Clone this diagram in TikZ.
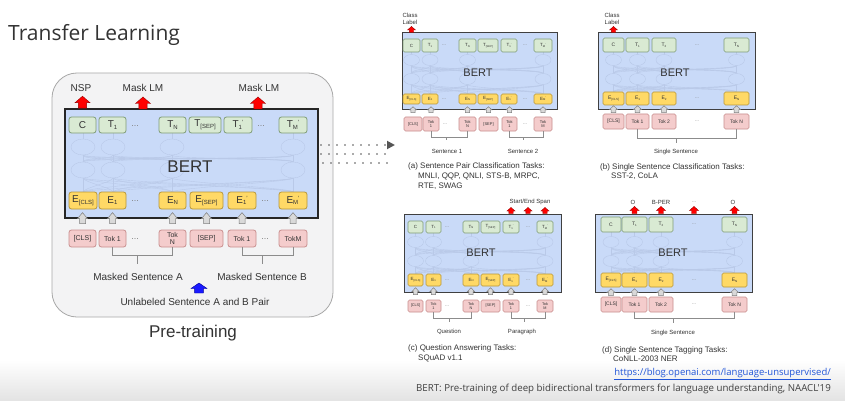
\documentclass[tikz,border=0pt]{standalone}
\usepackage{fontspec}
\setmainfont{Liberation Sans}
\newfontfamily\segoe{Open Sans}
\usetikzlibrary{calc,arrows.meta}
\definecolor{panelbg}{HTML}{F3F3F4}
\definecolor{panelbd}{HTML}{A8A8A8}
\definecolor{bertbg}{HTML}{C9DAF8}
\definecolor{greenf}{HTML}{D9EAD3}
\definecolor{greenb}{HTML}{7F9C76}
\definecolor{yelf}{HTML}{FFD966}
\definecolor{yelb}{HTML}{B8973A}
\definecolor{pinkf}{HTML}{F4CCCC}
\definecolor{pinkb}{HTML}{C98E8E}
\definecolor{txt}{HTML}{333333}
\definecolor{faintc}{HTML}{B9C9E8}
\definecolor{dotc}{HTML}{555555}
\definecolor{urlc}{HTML}{2256D8}
\newcommand{\sbs}[1]{\raisebox{-0.35ex}{\scalebox{0.6}{#1}}}
\newcommand{\spr}{\raisebox{0.55ex}{\scalebox{0.6}{'}}}
\newcommand{\tk}[7]{\node[#1, minimum width={#4-#3}, minimum height={#6-#5}] (#2) at ({(#3+#4)/2},{(#5+#6)/2}) {#7};}
\newcommand{\net}[7]{%
  \foreach \ca in {#1}{%
    \draw[faintl] (\ca,#2) -- (\ca,#3);
    \foreach \cb in {#1}{%
      \draw[faintl] (\ca,#4+#7) .. controls (\ca,#4+#7+5) and (\cb,#5-#7-5) .. (\cb,#5-#7);
      \draw[faintl] (\ca,#5+#7) .. controls (\ca,#5+#7+4) and (\cb,#3-4) .. (\cb,#3);
    }}
  \foreach \ca in {#1}{%
    \draw[faintl, fill=bertbg] (\ca,#4) ellipse ({#6} and {#7});
    \draw[faintl, fill=bertbg] (\ca,#5) ellipse ({#6} and {#7});
  }}
\newcommand{\garr}[4]{\filldraw[garrow] ($(#1.north)+(0,-#2)$) ++(-0.6*#4,0) -- ++(0,-0.45*#3) -- ++(-0.4*#4,0) -- ++(#4,-0.55*#3) -- ++(#4,0.55*#3) -- ++(-0.4*#4,0) -- ++(0,0.45*#3) -- cycle;}
\newcommand{\rarr}[5]{\filldraw[#1] (#2) ++(-0.55*#4,0) -- ++(0,-#3+#5) -- ++(-0.45*#4,0) -- ++(#4,-#5) -- ++(#4,#5) -- ++(-0.45*#4,0) -- ++(0,#3-#5) -- cycle;}
\newcommand{\brk}[5]{\draw[brkl] (#1.south) -- ++(0,#3) -| (#2.south); \draw[brkl] ($(#1.south)!#4!(#2.south)+(0,#3)$) -- ++(0,#5);}
\tikzset{
  tokbase/.style={rounded corners=2.5pt, line width=0.8pt, inner sep=0pt, text=txt, align=center, font=\fontsize{10}{10}\selectfont},
  gtok/.style={tokbase, draw=greenb, fill=greenf},
  ytok/.style={tokbase, draw=yelb, fill=yelf},
  ptok/.style={tokbase, draw=pinkb, fill=pinkf, font=\fontsize{7}{7.5}\selectfont},
  sbase/.style={rounded corners=1.5pt, line width=0.6pt, inner sep=0pt, text=txt, align=center, font=\fontsize{4.5}{4.8}\selectfont},
  sg/.style={sbase, draw=greenb, fill=greenf},
  sy/.style={sbase, draw=yelb, fill=yelf},
  sp/.style={sbase, draw=pinkb, fill=pinkf},
  bertbox/.style={draw=black!85, fill=bertbg, inner sep=0pt},
  sbox/.style={draw=black!75, fill=bertbg, inner sep=0pt, line width=1pt},
  panel/.style={draw=panelbd, fill=panelbg, line width=0.8pt, rounded corners=25pt, inner sep=0pt},
  faintl/.style={draw=faintc, line width=0.4pt},
  garrow/.style={fill=black!15, draw=black!50, line width=0.5pt},
  redarr/.style={fill=red, draw=red!60!black, line width=0.4pt},
  bluearr/.style={fill=blue!90, draw=blue!60!black, line width=0.4pt},
  brkl/.style={draw=black!45, line width=0.7pt},
  ldots/.style={text=black!50, inner sep=0pt, font=\fontsize{9}{9}\selectfont},
  sdots/.style={text=black!50, inner sep=0pt, font=\fontsize{5}{5}\selectfont},
  lbl/.style={text=txt, inner sep=0pt, font=\fontsize{10}{11}\selectfont},
  slbl/.style={text=txt, inner sep=0pt, font=\fontsize{6}{6.5}\selectfont, align=center},
  captxt/.style={text=txt, inner sep=0pt, anchor=west, align=left, font=\fontsize{8}{10}\selectfont},
  dotline/.style={draw=dotc, line width=1.8pt, line cap=round, dash pattern=on 0pt off 8pt}
}
\begin{document}
\begin{tikzpicture}[x=1pt,y=-1pt]
\useasboundingbox (0,0) rectangle (845,401);
\fill[white] (0,0) rectangle (845,401);
\shade[top color=white, bottom color=black!11] (0,360) rectangle (845,401);

\node[anchor=west, inner sep=0pt, text=txt, font=\segoe\fontsize{21}{24}\selectfont] (title) at (8,35) {Transfer Learning};

% ================= left panel =================
\tk{panel}{LPan}{52}{333}{73}{317}{}
\tk{bertbox, line width=1.6pt}{LB}{65}{318}{109}{218}{}
\net{83,113,172,293}{133}{192}{147}{170}{12}{8}
\node[text=txt, inner sep=0pt, font=\fontsize{17}{17}\selectfont] (Lbert) at (190,167) {BERT};

\tk{gtok}{LC}{69}{96}{117}{133}{C}
\tk{gtok}{LT1}{99}{126}{117}{133}{T\sbs{1}}
\node[ldots] (Ld1) at (135,126) {...};
\tk{gtok}{LTN}{159}{186}{117}{133}{T\sbs{N}}
\tk{gtok}{LTS}{189}{221}{117}{133}{T\sbs{[SEP]}}
\tk{gtok}{LT1p}{224}{252}{117}{133}{T\sbs{1}\spr}
\node[ldots] (Ld2) at (261,126) {...};
\tk{gtok}{LTM}{279}{307}{117}{133}{T\sbs{M}\spr}

\tk{ytok}{LE0}{69}{97}{192}{209}{E\sbs{[CLS]}}
\tk{ytok}{LE1}{99}{126}{192}{209}{E\sbs{1}}
\node[ldots] (Ld3) at (135,201) {...};
\tk{ytok}{LEN}{159}{186}{192}{209}{E\sbs{N}}
\tk{ytok}{LES}{190}{223}{192}{209}{E\sbs{[SEP]}}
\tk{ytok}{LE1p}{228}{256}{192}{209}{E\sbs{1}\spr}
\node[ldots] (Ld4) at (265,201) {...};
\tk{ytok}{LEM}{279}{307}{192}{209}{E\sbs{M}\spr}

\tk{ptok}{LP0}{69}{96}{230}{247}{[CLS]}
\tk{ptok}{LP1}{99}{126}{230}{247}{Tok 1}
\node[ldots] (Ld5) at (135,239) {...};
\tk{ptok}{LPN}{159}{186}{230}{247}{Tok\\N}
\tk{ptok}{LPS}{190}{223}{230}{247}{[SEP]}
\tk{ptok}{LP1p}{228}{256}{230}{247}{Tok 1}
\node[ldots] (Ld6) at (265,239) {...};
\tk{ptok}{LPM}{279}{307}{230}{247}{TokM}

\foreach \n in {LP0,LP1,LPN,LPS,LP1p,LPM}{\garr{\n}{6}{11}{5}}

\coordinate (mA) at (143,109);
\coordinate (mB) at (258,109);
\node[lbl] (nsp) at (81,88) {NSP};
\node[lbl] (mlm1) at (143,88) {Mask LM};
\node[lbl] (mlm2) at (259,88) {Mask LM};
\rarr{redarr}{LC.north |- LB.north}{12}{7.5}{6.5}
\rarr{redarr}{mA}{12}{7.5}{6.5}
\rarr{redarr}{mB}{12}{7.5}{6.5}

\brk{LP1}{LPN}{8}{0.42}{9}
\brk{LP1p}{LPM}{8}{0.4}{9}
\node[lbl] (msa) at (138,277) {Masked Sentence A};
\node[lbl] (msb) at (262,277) {Masked Sentence B};
\node[lbl] (unl) at (195,302) {Unlabeled Sentence A and B Pair};
\coordinate (bluebase) at (199,293);
\rarr{bluearr}{bluebase}{10}{8}{5.5}
\node[text=txt, inner sep=0pt, font=\fontsize{17}{17}\selectfont] (pre) at (193,333) {Pre-training};

% dotted arrow
\coordinate (d1s) at (321,145); \coordinate (d1e) at (395,145);
\coordinate (d2s) at (321,154); \coordinate (d2e) at (391,154);
\coordinate (d3s) at (323,163); \coordinate (d3e) at (391,163);
\draw[dotline, -{Triangle[length=8pt,width=8pt]}] (d1s) -- (d1e);
\draw[dotline] (d2s) -- (d2e);
\draw[dotline] (d3s) -- (d3e);

% ================= panel (a) =================
\tk{sbox}{aB}{402}{557}{33}{110}{}
\net{411.5,430,467.5,543}{52}{94}{60}{79}{8}{5.5}
\node[text=txt, inner sep=0pt, font=\fontsize{11}{11}\selectfont] (abert) at (478,73) {BERT};
\tk{sg}{aC}{403}{420}{39}{52}{C}
\tk{sg}{aT1}{422}{438}{39}{52}{T\sbs{1}}
\node[sdots] (ad1) at (444,45.5) {...};
\tk{sg}{aTN}{459}{476}{39}{52}{T\sbs{N}}
\tk{sg}{aTS}{478}{498}{39}{52}{T\sbs{[SEP]}}
\tk{sg}{aT1p}{501}{517}{39}{52}{T\sbs{1}\spr}
\node[sdots] (ad2) at (525,45.5) {...};
\tk{sg}{aTM}{534}{552}{39}{52}{T\sbs{M}\spr}
\tk{sy}{aE0}{403}{420}{94}{104}{E\sbs{[CLS]}}
\tk{sy}{aE1}{422}{438}{94}{104}{E\sbs{1}}
\node[sdots] (ad3) at (444,99) {...};
\tk{sy}{aEN}{459}{476}{94}{104}{E\sbs{N}}
\tk{sy}{aES}{478}{498}{94}{104}{E\sbs{[SEP]}}
\tk{sy}{aE1p}{501}{517}{94}{104}{E\sbs{1}\spr}
\node[sdots] (ad4) at (525,99) {...};
\tk{sy}{aEM}{534}{552}{94}{104}{E\sbs{M}\spr}
\tk{sp, font=\fontsize{4}{4.5}\selectfont}{aP0}{404}{422}{117}{131}{[CLS]}
\tk{sp, font=\fontsize{4}{4.5}\selectfont}{aP1}{423}{439}{117}{131}{Tok\\1}
\node[sdots] (ad5) at (445,124) {...};
\tk{sp, font=\fontsize{4}{4.5}\selectfont}{aPN}{459}{476}{117}{131}{Tok\\N}
\tk{sp, font=\fontsize{4}{4.5}\selectfont}{aPS}{479}{498}{117}{131}{[SEP]}
\tk{sp, font=\fontsize{4}{4.5}\selectfont}{aP1p}{502}{517}{117}{131}{Tok\\1}
\node[sdots] (ad6) at (525,124) {...};
\tk{sp, font=\fontsize{4}{4.5}\selectfont}{aPM}{534}{552}{117}{131}{Tok\\M}
\foreach \n in {aP0,aP1,aPN,aPS,aP1p,aPM}{\garr{\n}{4}{6}{3.5}}
\node[slbl] (acl) at (410,19) {Class\\Label};
\rarr{redarr}{aC.north |- aB.north}{6}{4}{3.5}
\brk{aP1}{aPN}{6}{0.43}{3}
\brk{aP1p}{aPM}{6}{0.42}{3}
\node[slbl] (as1) at (447,151) {Sentence 1};
\node[slbl] (as2) at (523,151) {Sentence 2};
\node[captxt] (acap) at (408,176) {(a) Sentence Pair Classification Tasks:\\\hspace*{10pt}MNLI, QQP, QNLI, STS-B, MRPC,\\\hspace*{10pt}RTE, SWAG};

% ================= panel (b) =================
\tk{sbox}{bB}{598}{755}{33}{110}{}
\net{613.5,637.5,664,736.5}{52}{92}{60}{79}{8}{5.5}
\node[text=txt, inner sep=0pt, font=\fontsize{11}{11}\selectfont] (bbert) at (675,73) {BERT};
\tk{sg, font=\fontsize{5}{5}\selectfont}{bC}{603}{624}{38}{52}{C}
\tk{sg, font=\fontsize{5}{5}\selectfont}{bT1}{626}{649}{38}{52}{T\sbs{1}}
\tk{sg, font=\fontsize{5}{5}\selectfont}{bT2}{652}{676}{38}{52}{T\sbs{2}}
\node[sdots] (bd1) at (697,45) {...};
\tk{sg, font=\fontsize{5}{5}\selectfont}{bTN}{724}{749}{38}{52}{T\sbs{N}}
\tk{sy, font=\fontsize{5}{5}\selectfont}{bE0}{603}{624}{92}{105}{E\sbs{[CLS]}}
\tk{sy, font=\fontsize{5}{5}\selectfont}{bE1}{626}{649}{92}{105}{E\sbs{1}}
\tk{sy, font=\fontsize{5}{5}\selectfont}{bE2}{652}{676}{92}{105}{E\sbs{2}}
\node[sdots] (bd2) at (697,98.5) {...};
\tk{sy, font=\fontsize{5}{5}\selectfont}{bEN}{724}{749}{92}{105}{E\sbs{N}}
\tk{sp, font=\fontsize{5}{5}\selectfont}{bP0}{603}{624}{114}{129}{[CLS]}
\tk{sp, font=\fontsize{5}{5}\selectfont}{bP1}{626}{649}{114}{129}{Tok 1}
\tk{sp, font=\fontsize{5}{5}\selectfont}{bP2}{652}{676}{114}{129}{Tok 2}
\node[sdots] (bd3) at (697,121.5) {...};
\tk{sp, font=\fontsize{5}{5}\selectfont}{bPN}{724}{749}{114}{129}{Tok N}
\foreach \n in {bP0,bP1,bP2,bPN}{\garr{\n}{1}{7}{4}}
\node[slbl] (bcl) at (612,19) {Class\\Label};
\rarr{redarr}{bC.north |- bB.north}{6}{4}{3.5}
\brk{bP1}{bPN}{9}{0.39}{5}
\node[slbl] (bss) at (676,152) {Single Sentence};
\node[captxt, font=\fontsize{8}{9.5}\selectfont] (bcap) at (600,171.5) {(b) Single Sentence Classification Tasks:\\\hspace*{11pt}SST-2, CoLA};

% ================= panel (c) =================
\tk{sbox}{cB}{404}{561}{214}{292}{}
\net{415.5,433.5,471,545}{233}{274}{242}{261}{8}{5.5}
\node[text=txt, inner sep=0pt, font=\fontsize{11}{11}\selectfont] (cbert) at (481,253) {BERT};
\tk{sg}{cC}{408}{423}{221}{233}{C}
\tk{sg}{cT1}{426}{441}{221}{233}{T\sbs{1}}
\node[sdots] (cd1) at (447,227) {...};
\tk{sg}{cTN}{463}{479}{221}{233}{T\sbs{N}}
\tk{sg}{cTS}{481}{500}{221}{233}{T\sbs{[SEP]}}
\tk{sg}{cT1p}{503}{519}{221}{233}{T\sbs{1}\spr}
\node[sdots] (cd2) at (528,227) {...};
\tk{sg}{cTM}{537}{553}{221}{233}{T\sbs{M}\spr}
\tk{sy}{cE0}{408}{423}{274}{286}{E\sbs{[CLS]}}
\tk{sy}{cE1}{426}{441}{274}{286}{E\sbs{1}}
\node[sdots] (cd3) at (447,280) {...};
\tk{sy}{cEN}{463}{479}{274}{286}{E\sbs{N}}
\tk{sy}{cES}{481}{500}{274}{286}{E\sbs{[SEP]}}
\tk{sy}{cE1p}{503}{519}{274}{286}{E\sbs{1}\spr}
\node[sdots] (cd4) at (528,280) {...};
\tk{sy}{cEM}{537}{553}{274}{286}{E\sbs{M}\spr}
\tk{sp, font=\fontsize{3.8}{4.3}\selectfont}{cP0}{408}{423}{300}{312}{[CLS]}
\tk{sp, font=\fontsize{3.8}{4.3}\selectfont}{cP1}{426}{441}{300}{312}{Tok\\1}
\node[sdots] (cd5) at (447,306) {...};
\tk{sp, font=\fontsize{3.8}{4.3}\selectfont}{cPN}{463}{479}{300}{312}{Tok\\N}
\tk{sp, font=\fontsize{3.8}{4.3}\selectfont}{cPS}{481}{500}{300}{312}{[SEP]}
\tk{sp, font=\fontsize{3.8}{4.3}\selectfont}{cP1p}{503}{519}{300}{312}{Tok\\1}
\node[sdots] (cd6) at (528,306) {...};
\tk{sp, font=\fontsize{3.8}{4.3}\selectfont}{cPM}{537}{553}{300}{312}{Tok\\M}
\foreach \n in {cP0,cP1,cPN,cPS,cP1p,cPM}{\garr{\n}{5}{7}{3.5}}
\node[slbl] (cse) at (530,202) {Start/End Span};
\rarr{redarr}{cT1p.north |- cB.north}{6}{4}{3.5}
\rarr{redarr}{cd2 |- cB.north}{6}{4}{3.5}
\rarr{redarr}{cTM.north |- cB.north}{6}{4}{3.5}
\brk{cP1}{cPN}{6}{0.41}{4}
\brk{cP1p}{cPM}{6}{0.4}{4}
\node[slbl] (cq) at (449,332) {Question};
\node[slbl] (cpg) at (522,332) {Paragraph};
\node[captxt, font=\fontsize{8}{9.5}\selectfont] (ccap) at (408,353.5) {(c) Question Answering Tasks:\\\hspace*{10pt}SQuAD v1.1};

% ================= panel (d) =================
\tk{sbox}{dB}{595}{752}{214}{292}{}
\net{611,634.5,661,734.5}{232}{273}{242}{261}{8}{5.5}
\node[text=txt, inner sep=0pt, font=\fontsize{11}{11}\selectfont] (dbert) at (673,253) {BERT};
\tk{sg, font=\fontsize{5}{5}\selectfont}{dC}{601}{621}{217}{232}{C}
\tk{sg, font=\fontsize{5}{5}\selectfont}{dT1}{622}{647}{217}{232}{T\sbs{1}}
\tk{sg, font=\fontsize{5}{5}\selectfont}{dT2}{649}{673}{217}{232}{T\sbs{2}}
\node[sdots] (dd1) at (694,224.5) {...};
\tk{sg, font=\fontsize{5}{5}\selectfont}{dTN}{722}{747}{217}{232}{T\sbs{N}}
\tk{sy, font=\fontsize{5}{5}\selectfont}{dE0}{601}{621}{273}{287}{E\sbs{[CLS]}}
\tk{sy, font=\fontsize{5}{5}\selectfont}{dE1}{622}{647}{273}{287}{E\sbs{1}}
\tk{sy, font=\fontsize{5}{5}\selectfont}{dE2}{649}{673}{273}{287}{E\sbs{2}}
\node[sdots] (dd2) at (694,280) {...};
\tk{sy, font=\fontsize{5}{5}\selectfont}{dEN}{722}{747}{273}{287}{E\sbs{N}}
\tk{sp, font=\fontsize{5}{5}\selectfont}{dP0}{601}{621}{297}{312}{[CLS]}
\tk{sp, font=\fontsize{5}{5}\selectfont}{dP1}{622}{647}{297}{312}{Tok 1}
\tk{sp, font=\fontsize{5}{5}\selectfont}{dP2}{649}{673}{297}{312}{Tok 2}
\node[sdots] (dd3) at (694,304.5) {...};
\tk{sp, font=\fontsize{5}{5}\selectfont}{dPN}{722}{747}{297}{312}{Tok N}
\foreach \n in {dP0,dP1,dP2,dPN}{\garr{\n}{1}{7}{4}}
\node[slbl] (do1) at (633,202) {O};
\node[slbl] (dbp) at (661,202) {B-PER};
\node[sdots] (ddl) at (694,202) {...};
\node[slbl] (do2) at (733,202) {O};
\rarr{redarr}{dT1.north |- dB.north}{7}{4.5}{4}
\rarr{redarr}{dT2.north |- dB.north}{7}{4.5}{4}
\rarr{redarr}{dd1 |- dB.north}{7}{4.5}{4}
\rarr{redarr}{dTN.north |- dB.north}{7}{4.5}{4}
\brk{dP1}{dPN}{6}{0.385}{5}
\node[slbl] (dss) at (673,333) {Single Sentence};
\node[captxt, font=\fontsize{8}{9.5}\selectfont] (dcap) at (602,354) {(d) Single Sentence Tagging Tasks:\\\hspace*{11pt}CoNLL-2003 NER};

% ================= references =================
\node[anchor=east, inner sep=0pt, text=urlc, font=\segoe\fontsize{9.5}{10}\selectfont] (url) at (831,374) {\underline{https://blog.openai.com/language-unsupervised/}};
\node[anchor=east, inner sep=0pt, text=black!75, font=\segoe\fontsize{9.7}{10}\selectfont] (cite) at (831,389) {BERT: Pre-training of deep bidirectional transformers for language understanding, NAACL'19};
\end{tikzpicture}
\end{document}
